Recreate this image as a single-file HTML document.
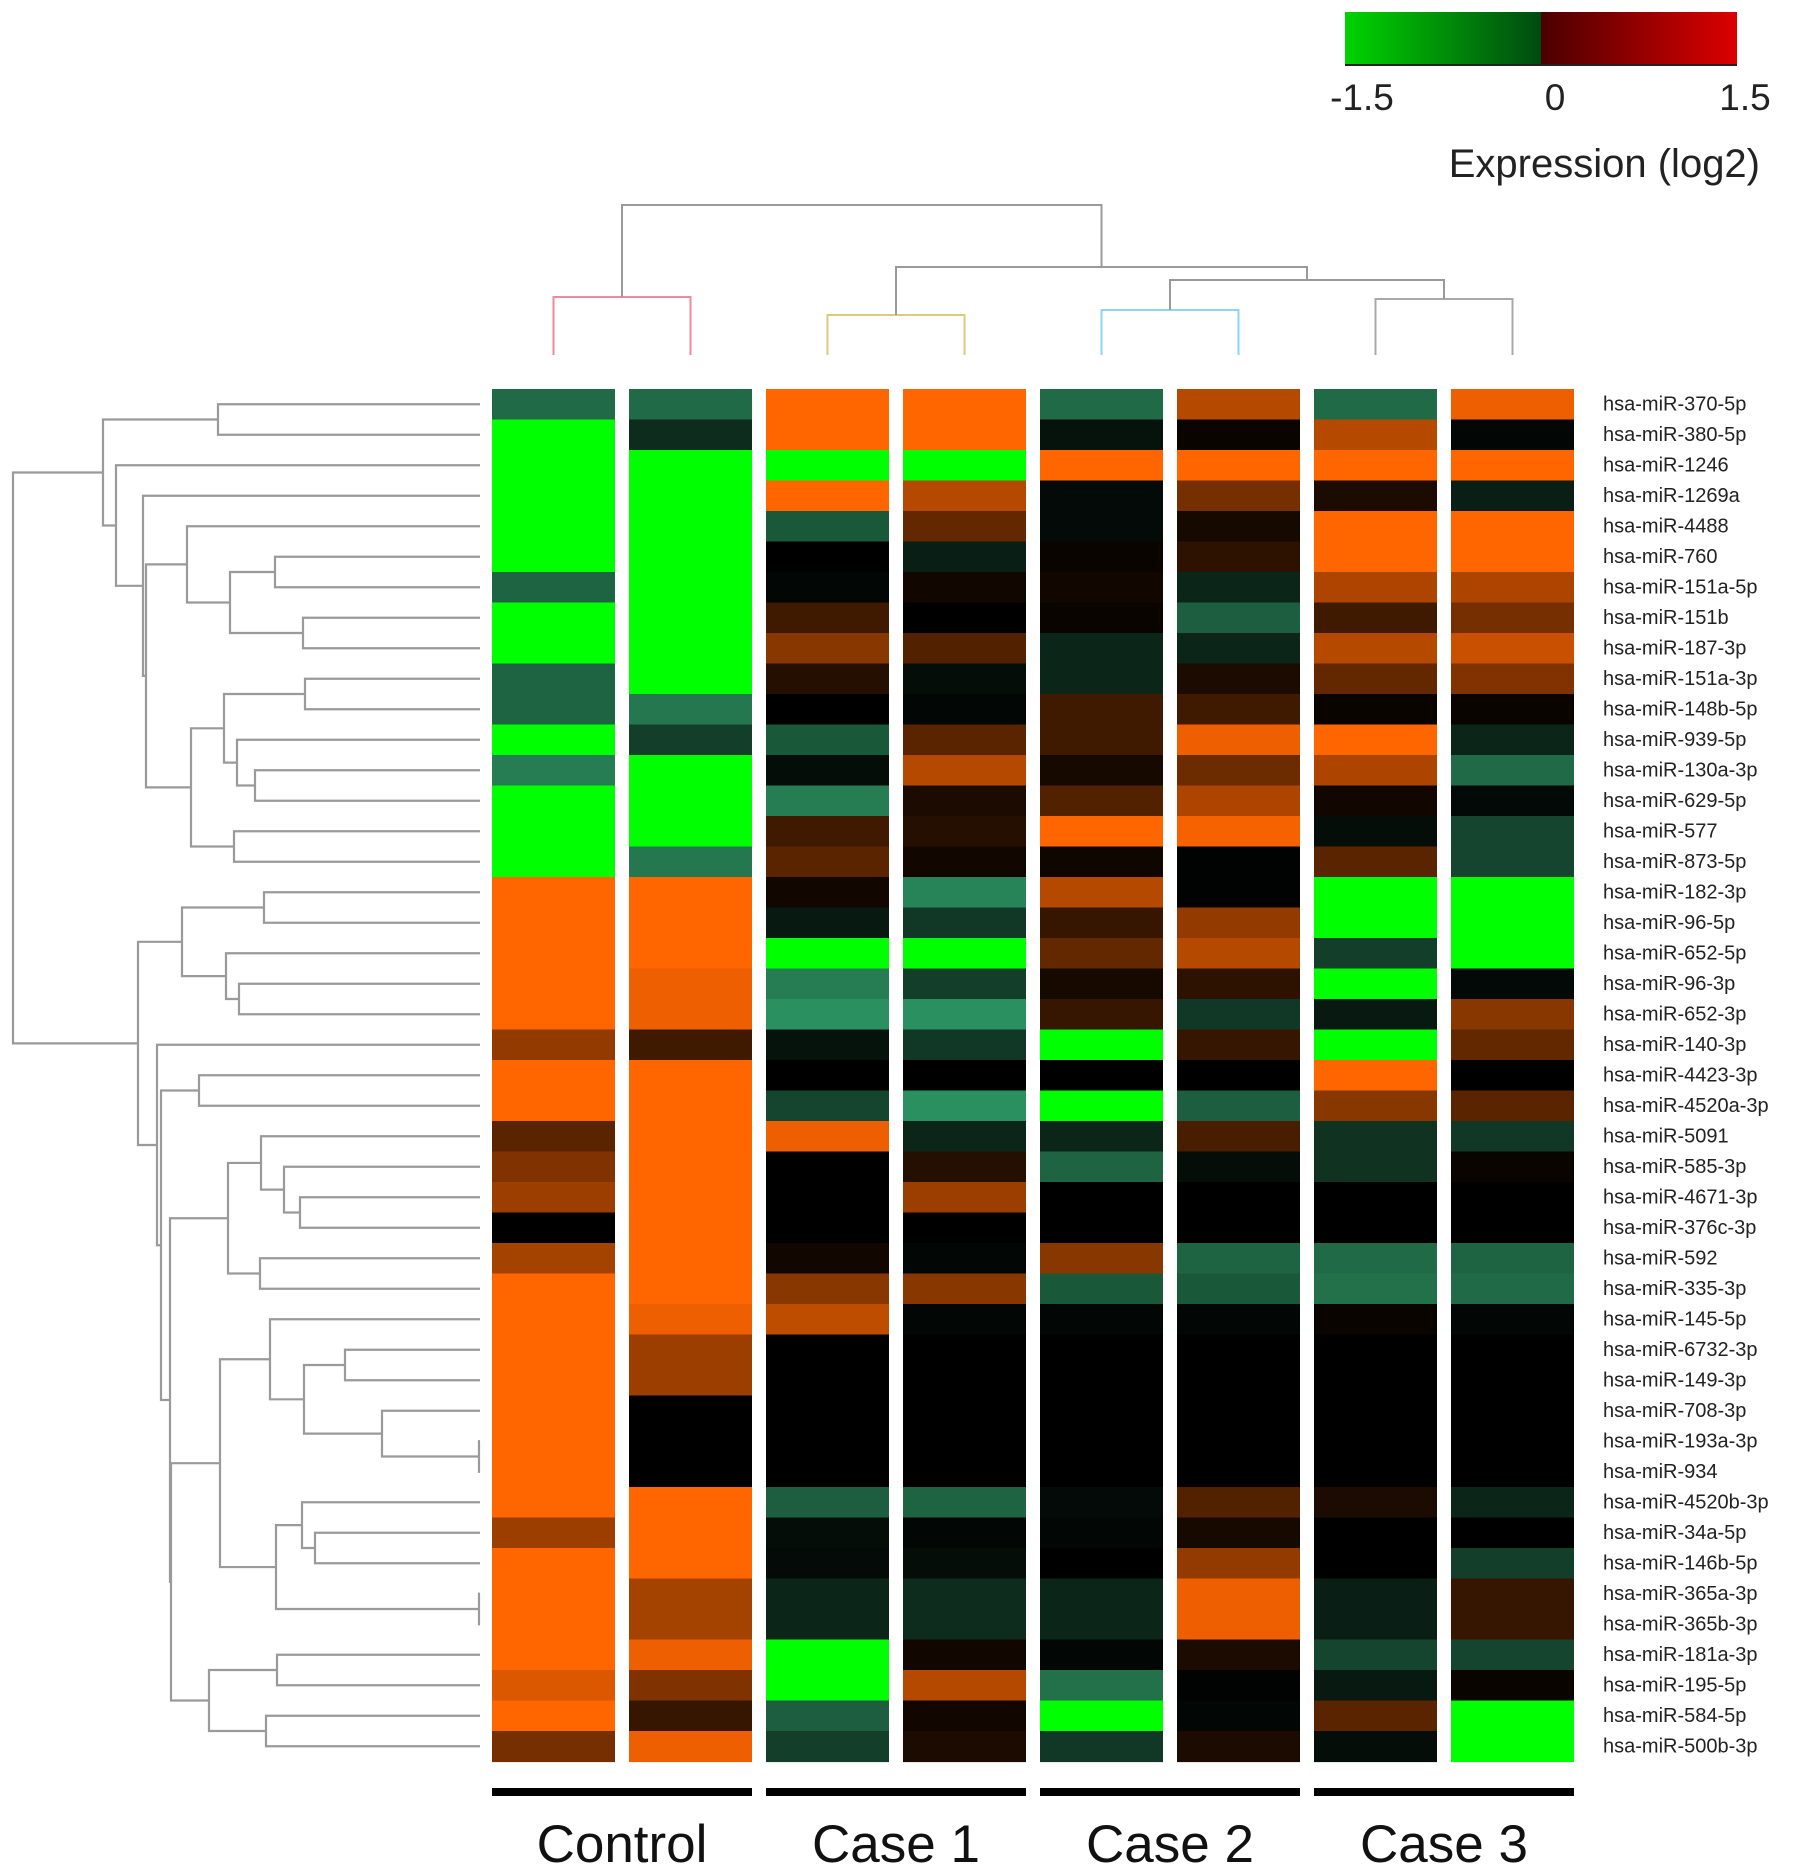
<!DOCTYPE html>
<html><head><meta charset="utf-8"><style>
html,body{margin:0;padding:0;background:#fff;}
svg{display:block;}
text{font-family:"Liberation Sans",sans-serif;}
</style></head>
<body>
<svg id="chart" width="1795" height="1874" viewBox="0 0 1795 1874" xmlns="http://www.w3.org/2000/svg">
<defs>
<linearGradient id="cbar" x1="0" x2="1" y1="0" y2="0">
<stop offset="0" stop-color="#00d400"/>
<stop offset="0.5" stop-color="#004a10"/>
<stop offset="0.5" stop-color="#4a0000"/>
<stop offset="1" stop-color="#dd0000"/>
</linearGradient>
</defs>
<g>
<rect x="1345" y="12" width="392" height="53" fill="url(#cbar)"/>
<line x1="1345" x2="1737" y1="65" y2="65" stroke="#222" stroke-width="2"/>
<text x="1362" y="110" font-size="37" text-anchor="middle" fill="#222">-1.5</text>
<text x="1555" y="110" font-size="37" text-anchor="middle" fill="#222">0</text>
<text x="1745" y="110" font-size="37" text-anchor="middle" fill="#222">1.5</text>
<text x="1760" y="177" font-size="40" text-anchor="end" fill="#222">Expression (log2)</text>
</g>
<g id="cells"></g>
<g id="rowlabels"></g>
<g id="rowtree"></g>
<g id="coltree"></g>
<g id="groups"></g>
</svg>
<script>
const rowNames = ["370-5p","380-5p","1246","1269a","4488","760","151a-5p","151b","187-3p","151a-3p","148b-5p","939-5p","130a-3p","629-5p","577","873-5p","182-3p","96-5p","652-5p","96-3p","652-3p","140-3p","4423-3p","4520a-3p","5091","585-3p","4671-3p","376c-3p","592","335-3p","145-5p","6732-3p","149-3p","708-3p","193a-3p","934","4520b-3p","34a-5p","146b-5p","365a-3p","365b-3p","181a-3p","195-5p","584-5p","500b-3p"];
const groups = ["Control","Case 1","Case 2","Case 3"];
const ctrl1 = [-0.85,-1.5,-1.5,-1.5,-1.5,-1.5,-0.8,-1.5,-1.5,-0.8,-0.8,-1.5,-1.0,-1.5,-1.5,-1.5,1.5,1.5,1.5,1.5,1.5,0.8,1.5,1.5,0.5,0.7,0.85,0,0.9,1.5,1.5,1.5,1.5,1.5,1.5,1.5,1.5,0.85,1.5,1.5,1.5,1.4,1.2,1.4,0.65];
const ctrl2 = [-0.85,-0.35,-1.5,-1.5,-1.5,-1.5,-1.5,-1.5,-1.5,-1.5,-0.95,-0.5,-1.5,-1.5,-1.5,-0.95,1.5,1.5,1.5,1.3,1.3,0.35,1.5,1.5,1.5,1.5,1.5,1.5,1.5,1.5,1.3,0.85,0.85,0,0,0,1.5,1.5,1.5,0.9,0.9,1.3,0.7,0.3,1.3];
const case1a = [1.5,1.5,-1.5,1.5,-0.7,0,-0.05,0.35,0.75,0.2,0,-0.7,-0.1,-1.0,0.35,0.5,0.1,-0.2,-1.5,-1.0,-1.15,-0.15,0,-0.55,1.3,0,0,0,0.1,0.75,1.05,0,0,0,0,0,-0.75,-0.1,-0.08,-0.3,-0.3,-1.5,-1.5,-0.75,-0.5];
const case1b = [1.5,1.5,-1.5,1.0,0.55,-0.25,0.1,0,0.45,-0.1,-0.05,0.5,1.0,0.15,0.2,0.1,-1.05,-0.45,-1.5,-0.5,-1.15,-0.45,0,-1.15,-0.3,0.2,0.85,0,-0.05,0.75,-0.05,0,0,0,0,0,-0.8,-0.05,-0.1,-0.35,-0.35,0.1,1.0,0.1,0.15];
const case2a = [-0.85,-0.15,1.5,-0.08,-0.08,0.05,0.1,0.05,-0.3,-0.3,0.35,0.35,0.12,0.45,1.5,0.08,1.0,0.3,0.55,0.12,0.3,-1.5,0,-1.5,-0.3,-0.8,0,0,0.75,-0.7,-0.05,0,0,0,0,0,-0.08,-0.05,0,-0.3,-0.3,-0.05,-0.9,-1.5,-0.45];
const case2b = [1.0,0.05,1.5,0.65,0.12,0.25,-0.3,-0.75,-0.3,0.15,0.35,1.3,0.6,0.95,1.35,-0.02,-0.02,0.8,1.0,0.25,-0.45,0.3,0,-0.75,0.4,-0.1,0,0,-0.8,-0.7,-0.05,0,0,0,0,0,0.45,0.12,0.8,1.3,1.3,0.15,-0.02,-0.05,0.15];
const case3a = [-0.85,1.0,1.5,0.15,1.5,1.5,0.95,0.35,1.0,0.55,0.05,1.5,0.95,0.1,-0.1,0.5,-1.5,-1.5,-0.5,-1.5,-0.2,-1.5,1.5,0.75,-0.4,-0.4,0,0,-0.85,-0.9,0.05,0,0,0,0,0,0.15,0,0,-0.25,-0.25,-0.55,-0.2,0.5,-0.1];
const case3b = [1.3,-0.05,1.5,-0.25,1.5,1.5,0.95,0.65,1.1,0.7,0.05,-0.3,-0.85,-0.07,-0.55,-0.55,-1.5,-1.5,-1.5,-0.07,0.75,0.55,0,0.5,-0.45,0.05,0,0,-0.8,-0.85,-0.05,0,0,0,0,0,-0.3,0,-0.5,0.3,0.3,-0.55,0.05,-1.5,-1.5];
const columns = [ctrl1,ctrl2,case1a,case1b,case2a,case2b,case3a,case3b];
const rowTree = [13,
  [103, [218,0,1], [116,2,[143,3,[146,
      [187,4,[230,[275,5,6],[303,7,8]]],
      [191,[224,[305,9,10],[237,11,[255,12,13]]],[234,14,15]]]]]],
  [138,
    [182,[264,16,17],[226,18,[239,19,20]]],
    [157,21,[161,[199,22,23],[170,
       [228,[261,24,[284,25,[300,26,27]]],[260,28,29]],
       [171,
         [220,[270,30,[304,[345,31,32],[382,33,[479,34,35]]]],[276,[302,36,[315,37,38]],[479,39,40]]],
         [209,[277,41,42],[266,43,44]]]]]]]];
const colTree = [205,[297,0,1,"#f08a9a"],[267,[315,2,3,"#dccb7a"],[280,[310,4,5,"#8fd4f0"],[299,6,7,"#aaaaaa"]]]];

const NS="http://www.w3.org/2000/svg";
const X0=492, PITCH=137, CW=123, Y0=389, RH=30.5;
const colX = c => X0 + PITCH*c;
const rowY = r => Y0 + RH*r;
function color(v){
  if(v<=-1.4) return "#00ff00";
  if(v>=1.4) return "#ff6600";
  if(v<0){const t=Math.min(-v/1.2,1);return `rgb(${Math.round(45*t)},${Math.round(150*t)},${Math.round(100*t)})`;}
  const t=v/1.4;return `rgb(${Math.round(255*t)},${Math.round(102*t)},0)`;
}
function mk(tag,attrs,parent){const e=document.createElementNS(NS,tag);for(const k in attrs)e.setAttribute(k,attrs[k]);parent.appendChild(e);return e;}
const cells=document.getElementById('cells');
columns.forEach((col,c)=>{col.forEach((v,r)=>{
  const e=mk('rect',{x:colX(c),y:rowY(r),width:CW,height:RH+0.6,fill:color(v)},cells);
  
  
});});
const rl=document.getElementById('rowlabels');
rowNames.forEach((n,r)=>{
  const t=mk('text',{x:1603,y:rowY(r)+RH/2+6,'font-size':20,fill:'#222'},rl);
  t.textContent='hsa-miR-'+n;
  
  
});
const rt=document.getElementById('rowtree');
const LEAFX=480;
function drawRow(node){
  if(typeof node==='number') return {x:LEAFX,y:rowY(node)+RH/2};
  const a=drawRow(node[1]), b=drawRow(node[2]), h=node[0];
  const p=mk('path',{d:`M${a.x},${a.y}H${h}V${b.y}H${b.x}`,fill:'none',stroke:'#9a9a9a','stroke-width':2.2},rt);
  
  
  return {x:h,y:(a.y+b.y)/2};
}
drawRow(rowTree);
const ct=document.getElementById('coltree');
const LEAFY=355;
function drawCol(node){
  if(typeof node==='number') return {x:colX(node)+CW/2,y:LEAFY};
  const a=drawCol(node[1]), b=drawCol(node[2]), h=node[0];
  const p=mk('path',{d:`M${a.x},${a.y}V${h}H${b.x}V${b.y}`,fill:'none',stroke:node[3]||'#9a9a9a','stroke-width':2},ct);
  
  
  return {x:(a.x+b.x)/2,y:h};
}
drawCol(colTree);
const gg=document.getElementById('groups');
groups.forEach((g,i)=>{
  const x1=colX(2*i), x2=colX(2*i+1)+CW;
  const b=mk('rect',{x:x1,y:1788,width:x2-x1,height:8,fill:'#000'},gg);
  
  
  const t=mk('text',{x:(x1+x2)/2,y:1862,'font-size':53,'text-anchor':'middle',fill:'#111'},gg);
  t.textContent=g;
  
  
});
</script>
</body></html>
